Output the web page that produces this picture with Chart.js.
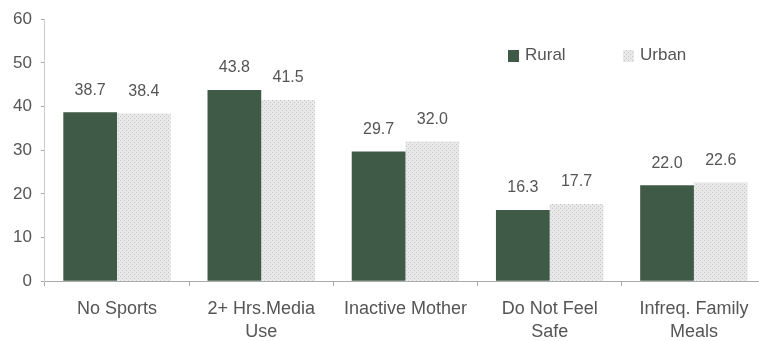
<!DOCTYPE html>
<html>
<head>
<meta charset="utf-8">
<script src="https://cdn.jsdelivr.net/npm/chart.js@4"></script>
<style>
  html, body { margin: 0; padding: 0; background: #fff; overflow: hidden; }
  #wrap { width: 759px; height: 341px; overflow: hidden; }
  #box { width: 766px; height: 341px; }
</style>
</head>
<body>
<div id="wrap"><div id="box"><canvas id="barChart"></canvas></div></div>
<script>
const categories = [["No Sports"], ["2+ Hrs.Media", "Use"], ["Inactive Mother"], ["Do Not Feel", "Safe"], ["Infreq. Family", "Meals"]];
const rural = [38.7, 43.8, 29.7, 16.3, 22.0];
const urban = [38.4, 41.5, 32.0, 17.7, 22.6];
const yTicks = [0, 10, 20, 30, 40, 50, 60];

const FONT = "'Liberation Sans', Arial, sans-serif";
const ruralColor = "#3f5a47";

// dotted light gray fill for urban bars
function makeDots() {
    const c = document.createElement("canvas");
    c.width = 4; c.height = 4;
    const g = c.getContext("2d");
    g.fillStyle = "#e8e8e8";
    g.fillRect(0, 0, 4, 4);
    g.fillStyle = "#c4c4c4";
    g.fillRect(0, 0, 1, 1);
    g.fillRect(2, 2, 1, 1);
    return g.createPattern(c, "repeat");
}
const urbanFill = makeDots();

const valueLabels = {
    id: "valueLabels",
    afterDatasetsDraw(chart) {
        const ctx = chart.ctx;
        ctx.save();
        ctx.font = "16px " + FONT;
        ctx.fillStyle = "#555";
        ctx.textAlign = "center";
        ctx.textBaseline = "bottom";
        chart.data.datasets.forEach((ds, i) => {
            chart.getDatasetMeta(i).data.forEach((bar, j) => {
                ctx.fillText(ds.data[j].toFixed(1), bar.x, bar.y - 14);
            });
        });
        ctx.restore();
    }
};

const cornerLegend = {
    id: "cornerLegend",
    afterDraw(chart) {
        const ctx = chart.ctx;
        const items = [
            { text: "Rural", fill: ruralColor, x: 508 },
            { text: "Urban", fill: urbanFill, x: 623 }
        ];
        ctx.save();
        ctx.font = "17px " + FONT;
        ctx.textBaseline = "middle";
        items.forEach(it => {
            ctx.fillStyle = it.fill;
            ctx.fillRect(it.x, 50, 11, 12);
            ctx.fillStyle = "#555";
            ctx.fillText(it.text, it.x + 17, 55);
        });
        ctx.restore();
    }
};

new Chart(document.getElementById("barChart"), {
    type: "bar",
    data: {
        labels: categories,
        datasets: [
            { label: "Rural", data: rural, backgroundColor: ruralColor, barPercentage: 1, categoryPercentage: 0.745 },
            { label: "Urban", data: urban, backgroundColor: urbanFill, barPercentage: 1, categoryPercentage: 0.745 }
        ]
    },
    options: {
        responsive: true,
        maintainAspectRatio: false,
        animation: false,
        layout: { padding: { top: 3, right: 0, left: 4, bottom: -14 } },
        plugins: {
            legend: { display: false },
            tooltip: { enabled: false }
        },
        scales: {
            x: {
                grid: { drawOnChartArea: false, color: "#aaa", tickLength: 5 },
                border: { color: "#aaa" },
                ticks: { color: "#555", font: { family: FONT, size: 18, lineHeight: 1.3 }, padding: 11 }
            },
            y: {
                min: 0, max: 60,
                afterBuildTicks: (axis) => { axis.ticks = yTicks.map(v => ({ value: v })); },
                grid: { drawOnChartArea: false, color: "#aaa", tickLength: 4 },
                border: { color: "#ccc" },
                ticks: { color: "#555", font: { family: FONT, size: 17 }, padding: 9 }
            }
        }
    },
    plugins: [valueLabels, cornerLegend]
});
</script>
</body>
</html>
